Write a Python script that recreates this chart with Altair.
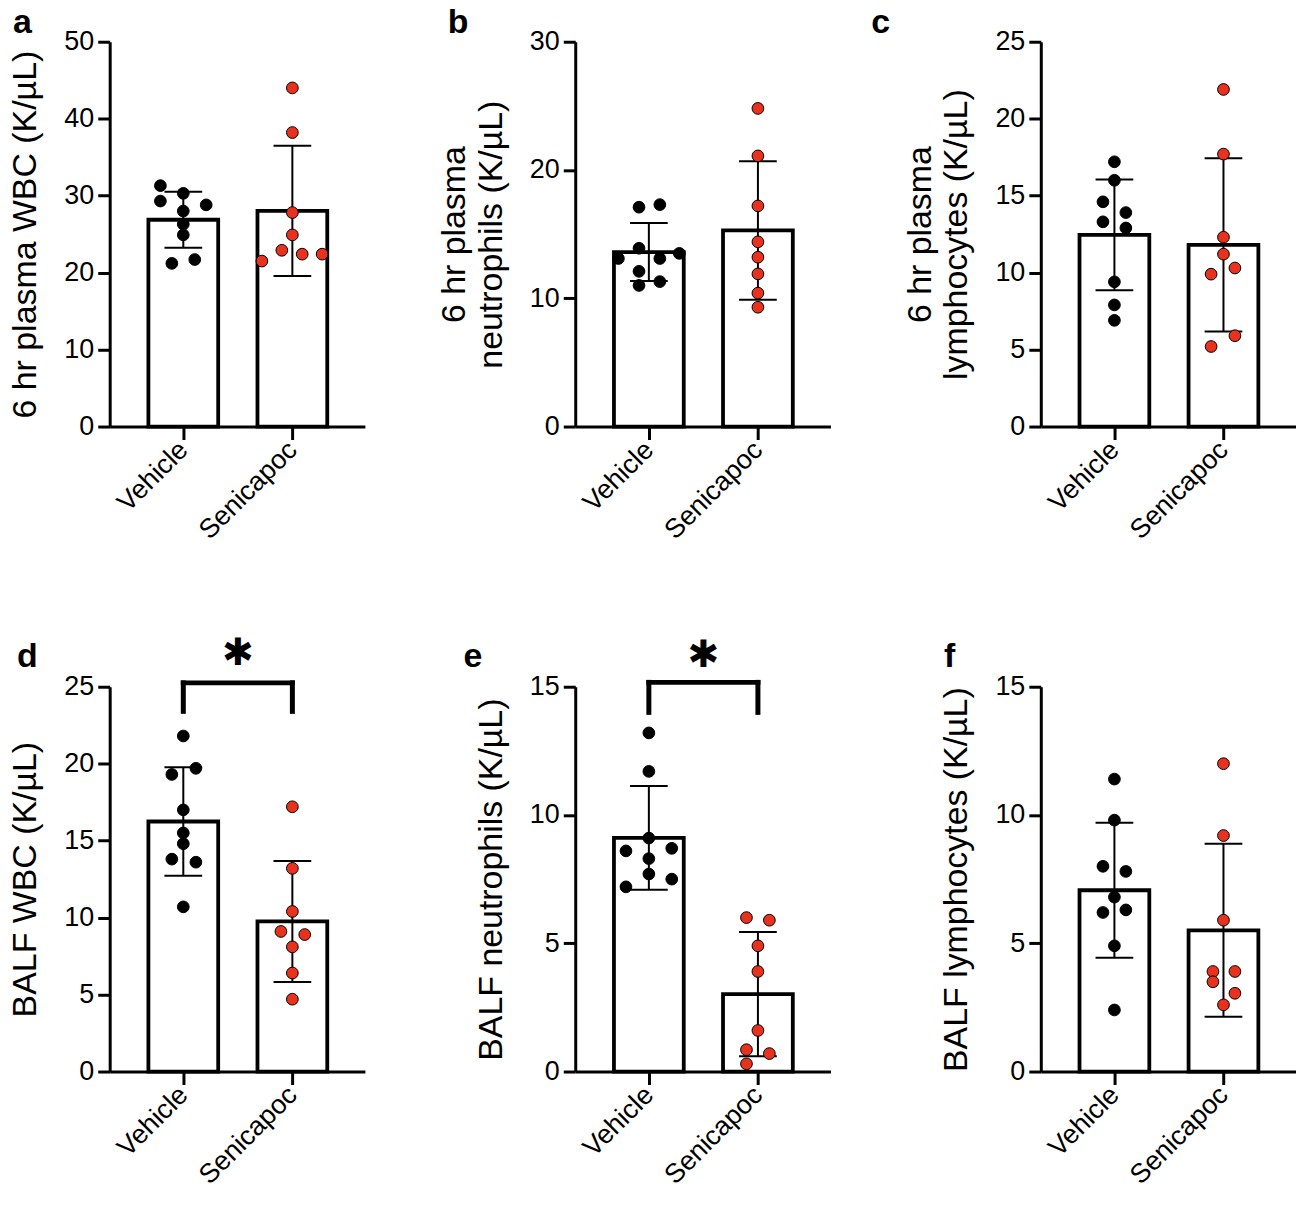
import altair as alt
import pandas as pd

CATEGORIES = ["Vehicle", "Senicapoc"]

# ---- values (K/µL) ----
a_vehicle = [31.3, 30.3, 29.3, 28.8, 28.0, 26.3, 24.9, 21.2, 21.7]
a_senicapoc = [44.0, 38.2, 27.8, 24.9, 22.9, 22.4, 22.4, 21.5]
b_vehicle = [17.1, 17.3, 13.9, 13.5, 13.1, 13.1, 12.1, 11.0, 11.3]
b_senicapoc = [24.8, 21.1, 17.2, 14.4, 13.2, 11.9, 10.4, 9.3]
c_vehicle = [17.2, 16.0, 14.6, 13.9, 13.3, 12.9, 9.4, 7.9, 6.9]
c_senicapoc = [21.9, 17.7, 12.3, 11.2, 10.3, 9.9, 5.9, 5.2]
d_vehicle = [21.8, 19.7, 19.3, 17.0, 15.5, 14.8, 13.8, 13.6, 10.7]
d_senicapoc = [17.2, 13.2, 10.4, 9.1, 8.9, 8.1, 6.4, 4.7]
e_vehicle = [13.2, 11.7, 9.1, 8.6, 8.7, 8.3, 7.7, 7.2, 7.5]
e_senicapoc = [6.0, 5.9, 4.9, 3.9, 1.6, 0.85, 0.7, 0.3]
f_vehicle = [11.4, 9.8, 8.0, 7.8, 6.8, 6.2, 6.3, 4.9, 2.4]
f_senicapoc = [12.0, 9.2, 5.9, 3.9, 3.9, 3.5, 3.05, 2.6]

# ---- scatter jitter (in dot-slot units, same order as the values) ----
a_vehicle_jit = [-1, 0, -1, 1, 0, 0, 0, -0.5, 0.5]
a_senicapoc_jit = [0, 0, 0, 0, -0.46, 0.43, 1.3, -1.33]
b_vehicle_jit = [-0.43, 0.48, -0.43, 1.33, -1.33, 0.48, -0.43, -0.43, 0.48]
b_senicapoc_jit = [0, 0, 0, 0, 0, 0, 0, 0]
c_vehicle_jit = [0, 0, -0.5, 0.5, -0.5, 0.5, 0, 0, 0]
c_senicapoc_jit = [0, 0, 0, 0, 0.5, -0.54, 0.5, -0.54]
d_vehicle_jit = [0, 0.55, -0.5, 0, 0, 0, -0.5, 0.55, 0]
d_senicapoc_jit = [0, 0, 0, -0.5, 0.54, 0, 0, 0]
e_vehicle_jit = [0, 0, 0, -1, 1, 0, 0, -1, 1]
e_senicapoc_jit = [-0.5, 0.5, 0, 0, 0, -0.5, 0.5, -0.5]
f_vehicle_jit = [0, 0, -0.5, 0.5, 0, -0.5, 0.5, 0, 0]
f_senicapoc_jit = [0, 0, 0, -0.46, 0.5, -0.46, 0.5, 0]

PANELS = [
    dict(letter="a", title="6 hr plasma WBC (K/µL)", ymax=50, step=10,
         values=[a_vehicle, a_senicapoc], jitter=[a_vehicle_jit, a_senicapoc_jit],
         lx=-97, ly=-9, sig=None),
    dict(letter="b", title=["6 hr plasma", "neutrophils (K/µL)"], ymax=30, step=10,
         values=[b_vehicle, b_senicapoc], jitter=[b_vehicle_jit, b_senicapoc_jit],
         lx=-128, ly=-9, sig=None),
    dict(letter="c", title=["6 hr plasma", "lymphocytes (K/µL)"], ymax=25, step=5,
         values=[c_vehicle, c_senicapoc], jitter=[c_vehicle_jit, c_senicapoc_jit],
         lx=-170, ly=-9, sig=None),
    dict(letter="d", title="BALF WBC (K/µL)", ymax=25, step=5,
         values=[d_vehicle, d_senicapoc], jitter=[d_vehicle_jit, d_senicapoc_jit],
         lx=-93, ly=-20, sig=dict(top=25.25, leg=23.4, star=27.1)),
    dict(letter="e", title="BALF neutrophils (K/µL)", ymax=15, step=5,
         values=[e_vehicle, e_senicapoc], jitter=[e_vehicle_jit, e_senicapoc_jit],
         lx=-112, ly=-20, sig=dict(top=15.17, leg=14.0, star=16.2)),
    dict(letter="f", title="BALF lymphocytes (K/µL)", ymax=15, step=5,
         values=[f_vehicle, f_senicapoc], jitter=[f_vehicle_jit, f_senicapoc_jit],
         lx=-97, ly=-20, sig=None),
]

W, H = 256, 386
XDOM = [0.325, 2.665]
BAR_HALF = 0.32
CAP_HALF = 0.173
SLOT = 0.21
RED = "#E8321E"
FONT = "Liberation Sans"

label_expr = " : ".join(
    f"datum.value == {i + 1} ? '{c}'" for i, c in enumerate(CATEGORIES[:-1])
) + f" : '{CATEGORIES[-1]}'"


def make_panel(p):
    rows = []
    for gi, cat in enumerate(CATEGORIES):
        for v, s in zip(p["values"][gi], p["jitter"][gi]):
            rows.append({"grp": cat, "pos": gi + 1, "value": v, "slot": s})
    df = pd.DataFrame(rows)

    xscale = alt.Scale(domain=XDOM, nice=False, zero=False)
    yscale = alt.Scale(domain=[0, p["ymax"]], nice=False, zero=True)
    xaxis = alt.Axis(values=list(range(1, len(CATEGORIES) + 1)), labelExpr=label_expr,
                     title=None, labelAngle=-45, labelAlign="right",
                     labelBaseline="middle", labelPadding=6, tickSize=13, grid=False)
    yaxis = alt.Axis(values=list(range(0, p["ymax"] + 1, p["step"])), title=p["title"],
                     tickSize=12, labelPadding=4, titlePadding=21, grid=False)

    def X(f):
        return alt.X(f, type="quantitative", scale=xscale, axis=xaxis)

    def Y(f):
        return alt.Y(f, type="quantitative", scale=yscale, axis=yaxis)

    base = alt.Chart(df)
    stats = base.transform_aggregate(
        mean="mean(value)", sd="stdev(value)", groupby=["pos"]
    ).transform_calculate(
        lo="datum.mean - datum.sd",
        hi="datum.mean + datum.sd",
        b0=f"datum.pos - {BAR_HALF}",
        b1=f"datum.pos + {BAR_HALF}",
        c0=f"datum.pos - {CAP_HALF}",
        c1=f"datum.pos + {CAP_HALF}",
        zero="0",
    )
    bars = stats.mark_rect(fill="white", stroke="black", strokeWidth=3.8).encode(
        x=X("b0"), x2=alt.X2("b1"), y=Y("mean"), y2=alt.Y2("zero"))
    err = stats.mark_rule(color="black", strokeWidth=2).encode(
        x=X("pos"), y=Y("lo"), y2=alt.Y2("hi"))
    cap_hi = stats.mark_rule(color="black", strokeWidth=2).encode(
        x=X("c0"), x2=alt.X2("c1"), y=Y("hi"))
    cap_lo = stats.mark_rule(color="black", strokeWidth=2).encode(
        x=X("c0"), x2=alt.X2("c1"), y=Y("lo"))
    pts = base.transform_calculate(xj=f"datum.pos + datum.slot * {SLOT}").mark_circle(
        size=138, opacity=1, stroke="black", strokeWidth=1
    ).encode(
        x=X("xj"), y=Y("value"),
        fill=alt.Fill("grp:N", scale=alt.Scale(domain=CATEGORIES, range=["black", RED]),
                      legend=None),
    )
    layers = [bars, err, cap_hi, cap_lo, pts]

    if p["sig"]:
        s = p["sig"]
        bdf = pd.DataFrame({"x0": [1], "x1": [2], "mid": [1.5],
                            "top": [s["top"]], "leg": [s["leg"]], "star": [s["star"]]})
        bc = alt.Chart(bdf)
        layers += [
            bc.mark_rule(color="black", strokeWidth=5, strokeCap="square").encode(
                x=X("x0"), x2=alt.X2("x1"), y=Y("top")),
            bc.mark_rule(color="black", strokeWidth=5, strokeCap="square").encode(
                x=X("x0"), y=Y("leg"), y2=alt.Y2("top")),
            bc.mark_rule(color="black", strokeWidth=5, strokeCap="square").encode(
                x=X("x1"), y=Y("leg"), y2=alt.Y2("top")),
            bc.mark_text(text="✱", font="DejaVu Sans", fontSize=38, baseline="middle",
                         align="center", color="black").encode(x=X("mid"), y=Y("star")),
        ]

    letter = alt.Chart(pd.DataFrame({"t": [p["letter"]]})).mark_text(
        font=FONT, fontSize=34, fontWeight="bold", align="left",
        baseline="alphabetic", color="black"
    ).encode(x=alt.value(p["lx"]), y=alt.value(p["ly"]), text="t:N")
    layers.append(letter)

    return alt.layer(*layers).properties(width=W, height=H)


chart = alt.concat(
    *[make_panel(p) for p in PANELS],
    columns=3,
    spacing={"row": 261, "column": 211},
    bounds="flush",
).properties(
    padding={"left": 0, "top": -4, "right": 0, "bottom": 0},
    background="white",
).configure_view(
    strokeWidth=0
).configure_axis(
    domainColor="black", domainWidth=3, tickColor="black", tickWidth=3,
    labelColor="black", labelFont=FONT, labelFontSize=27,
    titleFont=FONT, titleFontSize=34, titleFontWeight="normal", titleColor="black",
    titleLineHeight=37, grid=False,
)

chart.save("out.html", embed_options={"renderer": "svg", "actions": False})
